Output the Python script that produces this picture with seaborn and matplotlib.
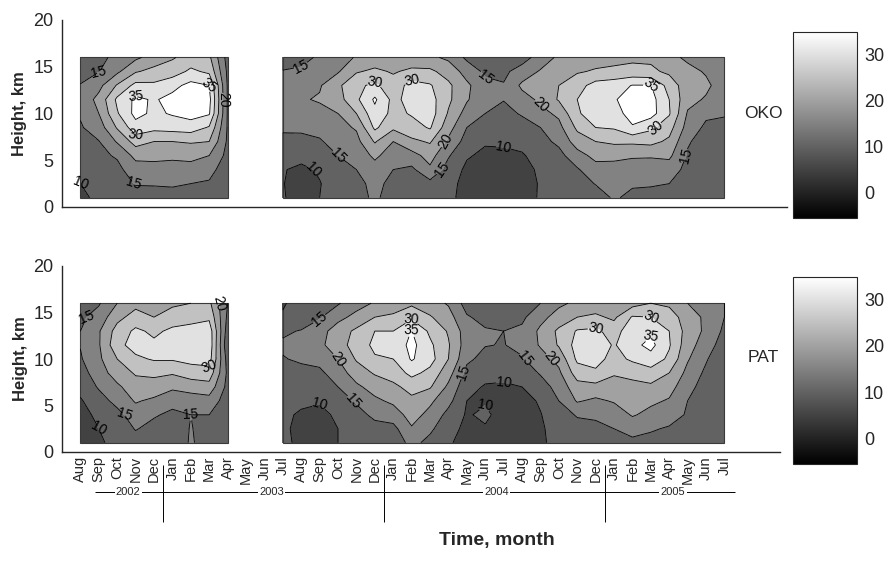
import numpy as np
import matplotlib
matplotlib.use("Agg")
import matplotlib.pyplot as plt
import matplotlib.colors as mcolors
from matplotlib.patches import Rectangle
import seaborn as sns

sns.set_style("white")
plt.rcParams["font.family"] = ["Liberation Sans", "DejaVu Sans"]

# Heights of the profile levels, km
heights = [1, 2.5, 4, 5.5, 7, 8.5, 10, 11.5, 13, 14.5, 16]

# Month index 0 = Aug 2002 ... 35 = Jul 2005
month_names = ["Aug", "Sep", "Oct", "Nov", "Dec", "Jan", "Feb", "Mar", "Apr",
               "May", "Jun", "Jul"] * 3
months_a = list(range(0, 9))     # Aug 2002 - Apr 2003
months_b = list(range(11, 36))   # Jul 2003 - Jul 2005
major_ticks = [4, 9, 14, 19, 24, 29, 34]

years = ["2002", "2003", "2004", "2005"]
year_centres = [2.6, 10.4, 22.6, 32.2]
year_breaks = [4.5, 16.5, 28.5]

# OKO: one list per month, values from 1 km to 16 km
oko_a = [
    [9, 10, 11.5, 12.5, 13.5, 14.5, 15.5, 16.5, 15.2, 13.5, 12.5],
    [11, 12, 13, 14, 14.8, 17.5, 20, 21.5, 18.5, 14.8, 13],
    [11.5, 12.5, 13.8, 15.5, 20.5, 25.5, 29.5, 31, 25.5, 19, 17],
    [13, 15.3, 17.5, 21.5, 27, 33, 36.5, 36, 31.5, 24.5, 19],
    [13.5, 15.3, 18, 21.5, 25, 31.5, 34, 34.5, 31, 26.5, 22],
    [13.5, 15.5, 18, 21, 25, 32, 35.5, 36.5, 33.5, 27.5, 24.5],
    [13.5, 15, 18, 21.5, 25.5, 32.5, 37, 37.5, 36.5, 31, 27],
    [13, 14.5, 16.5, 20, 25, 29.5, 35.5, 36.5, 35, 29, 26],
    [11.5, 12, 12.5, 13.5, 14.2, 14.5, 14.5, 14.5, 14.5, 14, 13],
]
oko_b = [
    [10.2, 10.2, 10.3, 10.6, 12.5, 16.5, 17.5, 18, 17, 15.2, 13],
    [9, 8, 9, 11.5, 13.5, 16, 18, 19.5, 18, 15.5, 14],
    [10, 9.8, 10.5, 12.5, 14.5, 16.5, 18.5, 20.5, 19.5, 17.5, 15.5],
    [11.5, 12, 13, 15, 17, 18.5, 20, 23, 24, 19.5, 17.5],
    [13, 13.5, 15, 17, 18.5, 20.5, 25, 29, 29, 24.5, 20.5],
    [16, 16.5, 18, 21, 25.5, 31, 33.5, 35.8, 31, 26, 22],
    [12.5, 13.5, 15, 17.5, 20, 26, 28.5, 28.5, 27, 24.5, 21.5],
    [12, 12.5, 14, 18, 24, 28, 30.5, 32, 32, 26, 22],
    [12.5, 13.5, 19, 22, 25.5, 30.5, 32.5, 32, 30.5, 26, 21],
    [11, 11.5, 13, 15.5, 19, 22, 24.5, 26, 26, 23, 19],
    [8.5, 8.5, 9, 10.5, 13, 15, 18, 20.5, 21, 18, 14],
    [7.5, 7.5, 8, 9, 10.5, 13, 15, 16.5, 16.5, 14, 12],
    [8, 7.5, 7.5, 8.5, 11, 12.5, 13.5, 15.2, 15.3, 14, 11],
    [8, 7.5, 8, 9.5, 11.5, 13, 15.5, 18, 21, 17, 13],
    [10.5, 10.5, 11, 12, 13.5, 15, 18.5, 21, 23, 20.5, 17],
    [11, 11.5, 12, 13.5, 16, 18.5, 21, 25.5, 25, 23, 21],
    [12, 13, 14.5, 18, 22.5, 26, 29.5, 30, 28, 24.5, 22],
    [13, 15.2, 18, 21.5, 25, 30, 32, 33, 32, 25.5, 23],
    [15.5, 16.5, 18.5, 21, 26, 30.5, 33, 34.5, 33, 26, 23.5],
    [14, 15.5, 18, 20.5, 26, 34.5, 37, 37.5, 35.2, 26.5, 24],
    [14, 15.3, 17.5, 20.5, 26.5, 31, 37, 37, 35.2, 26, 24],
    [13.5, 15, 17.5, 21, 24, 27, 30.5, 30, 28, 24, 21.5],
    [12, 12.5, 13.5, 14.5, 15.5, 18, 19.5, 21.5, 22, 21.5, 19],
    [11.5, 11.5, 12, 12.5, 13, 14, 16, 19.5, 21, 19.5, 16.5],
    [11, 11, 11.5, 12, 12.5, 13.5, 15.5, 17, 17.5, 17, 15],
]

# PAT: one list per month, values from 1 km to 16 km
pat_a = [
    [8, 8, 8.5, 9.5, 11.5, 13, 14.5, 15.2, 15, 14, 12.5],
    [9.5, 10, 11, 13, 15.5, 17.5, 19, 19.5, 19.5, 17, 14.5],
    [11, 12, 13.5, 16.5, 19, 22.5, 25, 28.5, 27, 23.5, 20],
    [13, 15.3, 17.5, 20.5, 23, 25.5, 29, 32, 31, 27, 23.5],
    [12, 13.5, 15.5, 19, 23, 26, 30.5, 31, 29, 25, 22],
    [12, 13, 14, 16.5, 21, 25.5, 30.5, 32.5, 31, 27.5, 24],
    [15.5, 15.2, 15, 17.5, 22, 27.5, 31.5, 33, 32, 28, 25],
    [13, 13.5, 15, 18, 23, 28, 32, 33.5, 33, 29, 26],
    [11.5, 11.5, 12, 12.5, 13.5, 14, 13, 11, 12.5, 14, 15],
]
pat_b = [
    [11, 11, 11.5, 12, 13, 14, 14.8, 15.5, 14.5, 10.5, 9.5],
    [9, 8.5, 9, 11.5, 13, 14, 15.5, 16.5, 15.2, 13, 12],
    [8.5, 8, 8.5, 10.5, 12.5, 14, 16.5, 19, 18, 14.5, 13],
    [10, 10, 11, 13, 15, 17.5, 20, 22.5, 22.5, 18.5, 14.5],
    [11.5, 12.5, 13.5, 15.5, 19, 22.5, 25.5, 27.5, 26, 21.5, 18],
    [12, 13.5, 16, 19, 22, 25.5, 29.5, 31, 30, 25, 20.5],
    [12, 13.5, 17.5, 21, 24, 27, 30, 31.5, 30, 26, 22],
    [16.5, 19.5, 22, 24, 26.5, 31.5, 35.5, 36.5, 35.2, 29, 24],
    [13.5, 16, 18.5, 21, 25.5, 28.5, 32, 31, 29, 25.5, 22],
    [10.5, 11.5, 13.5, 16.5, 19, 22, 25, 25.5, 24.5, 22, 19.5],
    [8.5, 9, 9.5, 10, 11.5, 13.5, 16, 17.5, 17.5, 15.5, 13],
    [9, 9.5, 11, 9.5, 9.6, 11.5, 13.5, 15.2, 15.5, 13.5, 11.5],
    [8.5, 8, 8, 8.5, 9.5, 11, 13, 14.8, 15, 13.5, 12],
    [8, 7.5, 8, 8.5, 10, 12, 14.5, 16.5, 16, 14, 12],
    [9.5, 9.5, 9.8, 10.5, 12.5, 15.5, 18, 20.5, 21, 18.5, 15],
    [11, 11.5, 12.5, 15, 17, 19, 21.5, 25.5, 26, 22, 19],
    [12, 13, 15.5, 20.5, 23, 27.5, 31, 32, 30.5, 25, 21],
    [12, 13.5, 16, 19, 23.5, 29, 32, 33, 31, 26, 22],
    [14, 15, 17, 20.5, 23, 25.5, 28, 29.5, 28, 24, 21],
    [14, 16.5, 20.5, 22.5, 24, 26, 31, 33.5, 33, 30.5, 23],
    [13.5, 15.5, 18.5, 21, 24, 28, 33, 36.5, 34, 30, 25],
    [13, 14.5, 17, 19.5, 22, 25, 29, 30.5, 30, 27.5, 24],
    [13.5, 14, 14.5, 15, 16.5, 18.5, 20.5, 22, 23, 22.5, 20],
    [11.5, 11.5, 12, 12.5, 13, 14, 15.5, 17.5, 19, 19, 17],
    [10.5, 10.5, 10.5, 10.5, 10.2, 10, 11, 12.5, 14, 15, 15],
]

stations = ["OKO", "PAT"]

# Grey scale shared by the filled contours and the colour bars
norm = mcolors.Normalize(vmin=-5.4, vmax=34.75)
cmap = plt.get_cmap("gray")
fill_levels = [0, 5, 10, 15, 20, 25, 30, 35, 60]
fill_colors = [cmap(norm(lv)) for lv in fill_levels[:-1]]
line_levels = [5, 10, 15, 20, 25, 30, 35]
label_levels = [10, 15, 20, 30, 35]

W, H = 890, 561
fig = plt.figure(figsize=(W / 100, H / 100), dpi=100)
fig.patch.set_facecolor("white")


def px_box(x0, y0, x1, y1):
    return [x0 / W, 1 - y1 / H, (x1 - x0) / W, (y1 - y0) / H]


axis_color = "#262626"


def draw_panel(ax, blocks, xmax):
    for mx, cols in blocks:
        Z = np.array(cols, dtype=float).T
        X, Y = np.meshgrid(mx, heights)
        ax.contourf(X, Y, Z, levels=fill_levels, colors=fill_colors)
        cs = ax.contour(X, Y, Z, levels=line_levels, colors="k",
                        linewidths=0.6)
        ax.clabel(cs, levels=label_levels, fmt="%d", fontsize=10,
                  inline=True, inline_spacing=1)
        ax.add_patch(Rectangle((mx[0], heights[0]), mx[-1] - mx[0],
                               heights[-1] - heights[0], fill=False,
                               edgecolor="#3a3a3a", linewidth=0.8))
    ax.set_xlim(-1, xmax)
    ax.set_ylim(0, 20)
    ax.set_yticks([0, 5, 10, 15, 20])
    ax.set_xticks(major_ticks)
    ax.set_xticklabels([])
    sns.despine(ax=ax)
    for side in ("left", "bottom"):
        ax.spines[side].set_color(axis_color)
        ax.spines[side].set_linewidth(1.0)
    ax.tick_params(axis="both", which="major", direction="in", length=6,
                   width=1.0, color=axis_color, labelsize=13, pad=6)
    ax.set_ylabel("Height, km", fontsize=12, fontweight="bold")
    ax.yaxis.set_label_coords(-0.048, 0.5)
    ax.set_facecolor("white")


ax_top = fig.add_axes(px_box(62, 20, 787, 207))
draw_panel(ax_top, [(months_a, oko_a), (months_b, oko_b)], 38.4)

ax_bot = fig.add_axes(px_box(62, 266, 780, 452))
draw_panel(ax_bot, [(months_a, pat_a), (months_b, pat_b)], 38.02)
# Month names as minor tick labels; keep those that share a major tick
ax_bot.xaxis.remove_overlapping_locs = False
ax_bot.set_xticks(list(range(len(month_names))), minor=True)
ax_bot.set_xticklabels(month_names, minor=True, rotation=90, fontsize=10.5)
ax_bot.tick_params(axis="x", which="minor", length=0, pad=3)

# Station names
fig.text(763 / W, 1 - 113 / H, stations[0], fontsize=12.5, ha="center",
         va="center")
fig.text(763 / W, 1 - 358 / H, stations[1], fontsize=12.5, ha="center",
         va="center")

# Colour bars
sm = plt.cm.ScalarMappable(norm=norm, cmap=cmap)
for box in (px_box(793, 32, 857, 218), px_box(793, 277, 857, 464)):
    cax = fig.add_axes(box)
    cb = fig.colorbar(sm, cax=cax, ticks=[0, 10, 20, 30])
    cb.outline.set_linewidth(0.8)
    cb.outline.set_edgecolor(axis_color)
    cax.tick_params(direction="in", left=True, right=True, length=4,
                    width=0.8, color=axis_color, labelsize=13, pad=5)

# Year timeline under the month labels
ax_yr = fig.add_axes(px_box(62, 463, 780, 525))
ax_yr.set_xlim(-1, 38.02)
ax_yr.set_ylim(0, 1)
ax_yr.axis("off")
narrow = ["Liberation Sans Narrow", "DejaVu Sans Condensed",
          "Liberation Sans"]
line_y = (525 - 492) / 62
ax_yr.hlines(line_y, 0.8, 35.6, color="black", linewidth=0.7)
ax_yr.vlines(year_breaks, 0.05, 0.97, color="black", linewidth=0.7)
for label, xc in zip(years, year_centres):
    ax_yr.text(xc, line_y, label, fontsize=8, ha="center", va="center",
               family=narrow,
               bbox=dict(facecolor="white", edgecolor="none", pad=1.0))

fig.text(497 / W, 1 - 541 / H, "Time, month", fontsize=14,
         fontweight="bold", ha="center", va="center", family=narrow)

fig.savefig("out.png", dpi=100, facecolor="white")
